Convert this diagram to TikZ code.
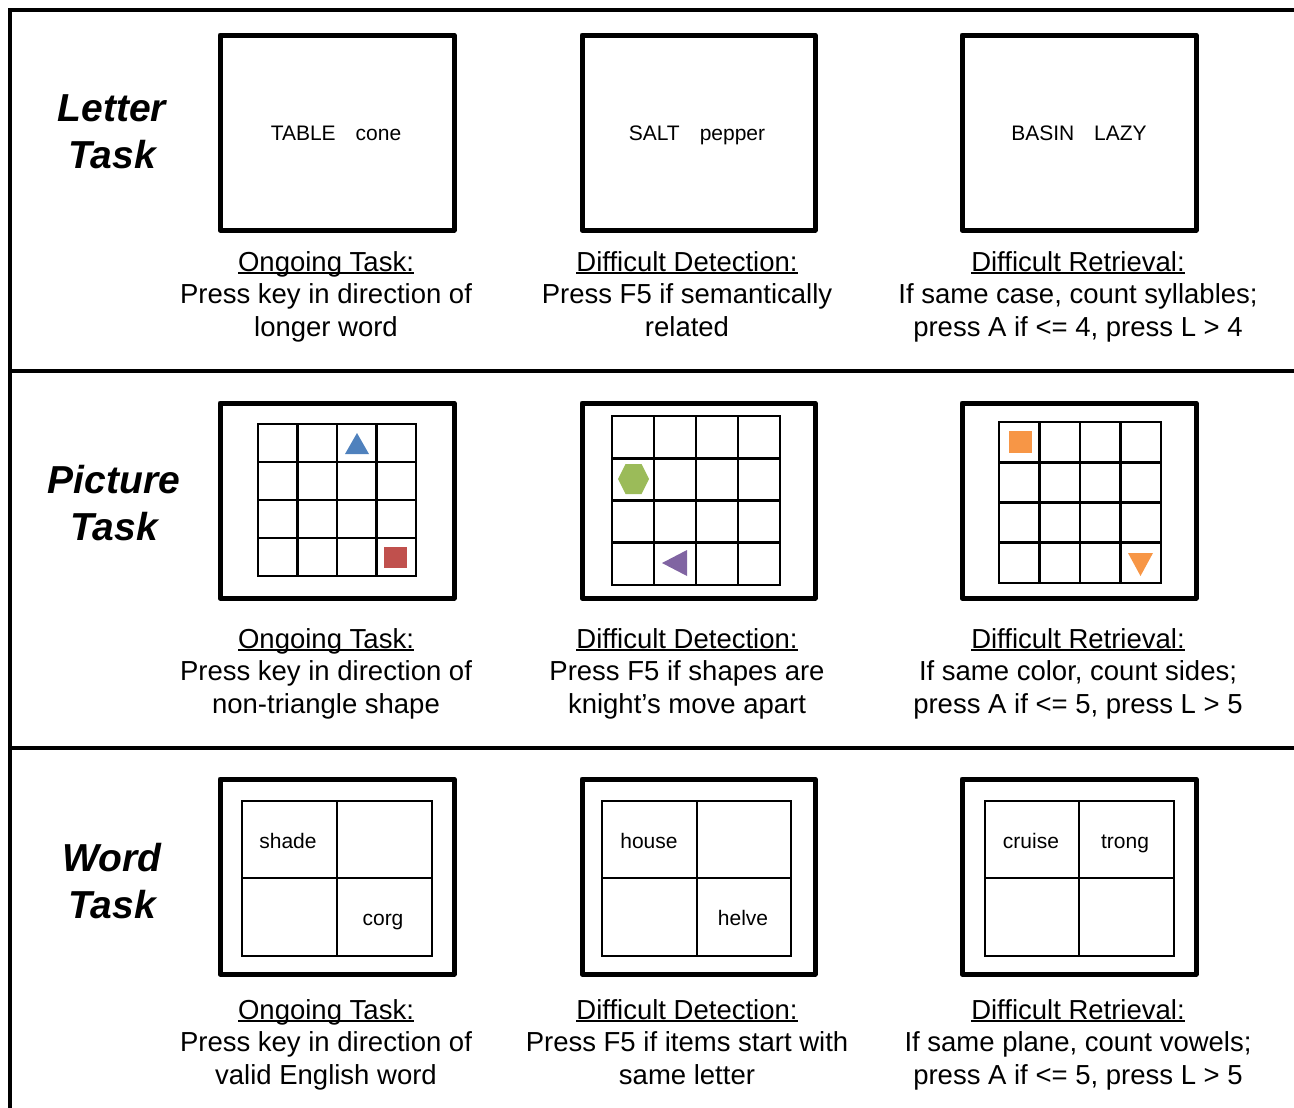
\documentclass[tikz,border=0pt]{standalone}
\usepackage{fontspec}
\setmainfont{Liberation Sans}

\definecolor{shapeblue}{HTML}{4F81BD}
\definecolor{shapered}{HTML}{C0504D}
\definecolor{shapegreen}{HTML}{9BBB59}
\definecolor{shapepurple}{HTML}{8064A2}
\definecolor{shapeorange}{HTML}{F79646}

\newcommand{\ulined}[1]{\setbox0\hbox{#1}\rlap{\rule[-2.4bp]{\wd0}{1.6bp}}\box0}

\tikzset{
	frameline/.style={line width=4.5bp},
	screen/.style={line width=5bp, line join=round},
	gridline/.style={line width=2.8bp},
	rowlabel/.style={align=center, font=\fontsize{39bp}{47bp}\selectfont\bfseries\itshape},
	screentext/.style={anchor=base, font=\fontsize{21bp}{25bp}\selectfont},
	caption/.style={align=center, anchor=north, font=\fontsize{27.5bp}{32.5bp}\selectfont}
}

\begin{document}
\begin{tikzpicture}[x=1bp, y=-1bp]
		\useasboundingbox (0, 0) rectangle (1294, 1108);
		
		\draw [frameline] (1294, 10) -- (10, 10) -- (10, 1108); % Rahmen
		\draw [frameline] (10, 371) -- (1294, 371);
		\draw [frameline] (10, 748) -- (1294, 748);
		
		\node [rowlabel] (letterlbl) at (112, 132) {Letter\\Task};
		\node [rowlabel] (picturelbl) at (114, 503.5) {Picture\\Task};
		\node [rowlabel] (wordlbl) at (112, 881.5) {Word\\Task};
		
		% Bildschirme
		\foreach \xa/\xb in {220/454, 582/815, 962/1196} {
			\draw [screen] (\xa, 35) rectangle (\xb, 230);
			\draw [screen] (\xa, 403) rectangle (\xb, 598);
			\draw [screen] (\xa, 779) rectangle (\xb, 974);
		}
		
		% Buchstabenaufgabe
		\node [screentext] (w11) at (336, 140.5) {TABLE\hspace{0.95em}cone};
		\node [screentext] (w12) at (697, 140.5) {SALT\hspace{0.95em}pepper};
		\node [screentext] (w13) at (1079, 140.5) {BASIN\hspace{0.95em}LAZY};
		
		% Bildaufgabe: Gitter 4x4
		\foreach \gx/\gy/\gw/\gh in {258/424/158/152, 612/416/168/169, 999/422/162/161} {
			\draw [gridline] (\gx, \gy) rectangle ({\gx+\gw}, {\gy+\gh});
			\foreach \i in {1,2,3} {
				\draw [gridline] ({\gx+\i*\gw/4}, \gy) -- ({\gx+\i*\gw/4}, {\gy+\gh});
				\draw [gridline] (\gx, {\gy+\i*\gh/4}) -- ({\gx+\gw}, {\gy+\i*\gh/4});
			}
		}
		
		\fill [shapeblue] (357, 433) -- (369, 454) -- (345, 454) -- cycle;
		\fill [shapered] (384, 547) rectangle (407, 568);
		\fill [shapegreen] (618, 479) -- (625.5, 464) -- (641.5, 464) -- (649, 479) -- (641.5, 494) -- (625.5, 494) -- cycle;
		\fill [shapepurple] (662, 563) -- (687, 550) -- (687, 576) -- cycle;
		\fill [shapeorange] (1009, 431) rectangle (1032, 453);
		\fill [shapeorange] (1128, 553) -- (1153, 553) -- (1140.5, 576) -- cycle;
		
		% Wortaufgabe
		\foreach \xa/\xb/\xm in {242/432/337, 602/791/697, 985/1174/1079} {
			\draw [gridline] (\xa, 801) rectangle (\xb, 956);
			\draw [gridline] (\xm, 801) -- (\xm, 956);
			\draw [gridline] (\xa, 878) -- (\xb, 878);
		}
		\node [screentext] (w31a) at (288, 848) {shade};
		\node [screentext] (w31b) at (383, 925) {corg};
		\node [screentext] (w32a) at (649, 848) {house};
		\node [screentext] (w32b) at (743, 925) {helve};
		\node [screentext] (w33a) at (1031, 848) {cruise};
		\node [screentext] (w33b) at (1125, 848) {trong};
		
		% Beschreibungen
		\node [caption] (c11) at (326, 248) {\ulined{Ongoing Task:}\\Press key in direction of\\longer word};
		\node [caption] (c12) at (687, 248) {\ulined{Difficult Detection:}\\Press F5 if semantically\\related};
		\node [caption] (c13) at (1078, 248) {\ulined{Difficult Retrieval:}\\If same case, count syllables;\\press A if <= 4, press L > 4};
		
		\node [caption] (c21) at (326, 625) {\ulined{Ongoing Task:}\\Press key in direction of\\non-triangle shape};
		\node [caption] (c22) at (687, 625) {\ulined{Difficult Detection:}\\Press F5 if shapes are\\knight’s move apart};
		\node [caption] (c23) at (1078, 625) {\ulined{Difficult Retrieval:}\\If same color, count sides;\\press A if <= 5, press L > 5};
		
		\node [caption] (c31) at (326, 996) {\ulined{Ongoing Task:}\\Press key in direction of\\valid English word};
		\node [caption] (c32) at (687, 996) {\ulined{Difficult Detection:}\\Press F5 if items start with\\same letter};
		\node [caption] (c33) at (1078, 996) {\ulined{Difficult Retrieval:}\\If same plane, count vowels;\\press A if <= 5, press L > 5};
	\end{tikzpicture}
\end{document}
